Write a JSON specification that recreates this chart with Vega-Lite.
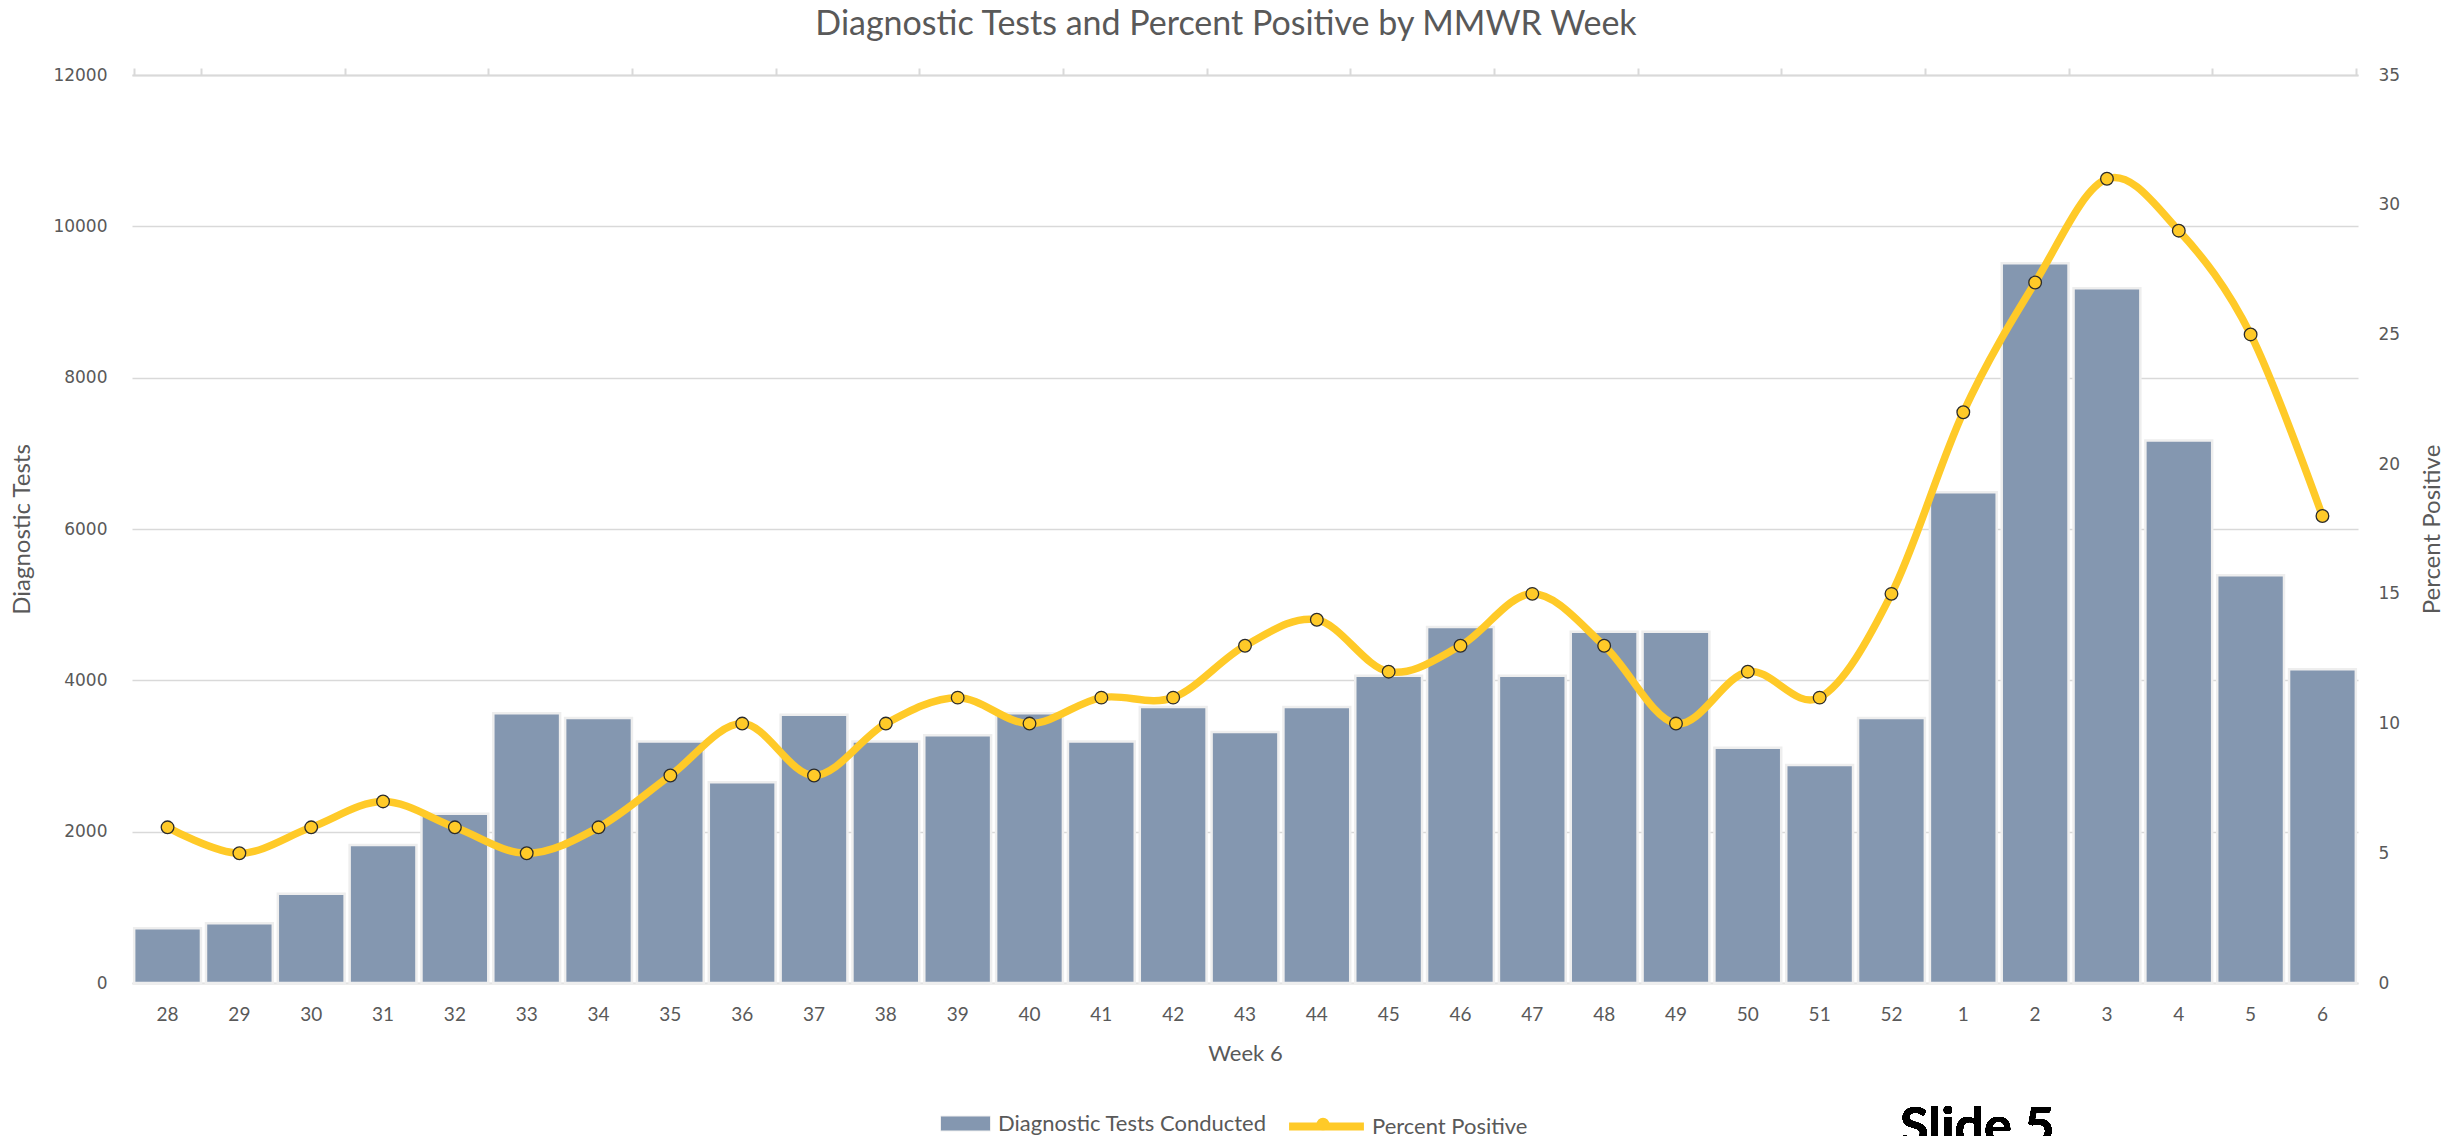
{
  "$schema": "https://vega.github.io/schema/vega-lite/v6.json",
  "width": 2226,
  "height": 908,
  "autosize": {"type": "none"},
  "padding": {"left": 132, "top": 75, "right": 100, "bottom": 153},
  "background": "white",
  "config": {"view": {"stroke": null}},
  "title": {
    "text": "Diagnostic Tests and Percent Positive by MMWR Week",
    "font": "Lato",
    "fontSize": 34,
    "fontWeight": "normal",
    "color": "#595959",
    "anchor": "middle",
    "dx": -19,
    "offset": 24
  },
  "data": {
    "values": [
      {"week": "28", "tests": 725, "pct": 6},
      {"week": "29", "tests": 788, "pct": 5},
      {"week": "30", "tests": 1181, "pct": 6},
      {"week": "31", "tests": 1824, "pct": 7},
      {"week": "32", "tests": 2238, "pct": 6},
      {"week": "33", "tests": 3565, "pct": 5},
      {"week": "34", "tests": 3503, "pct": 6},
      {"week": "35", "tests": 3192, "pct": 8},
      {"week": "36", "tests": 2653, "pct": 10},
      {"week": "37", "tests": 3544, "pct": 8},
      {"week": "38", "tests": 3192, "pct": 10},
      {"week": "39", "tests": 3275, "pct": 11},
      {"week": "40", "tests": 3565, "pct": 10},
      {"week": "41", "tests": 3192, "pct": 11},
      {"week": "42", "tests": 3648, "pct": 11},
      {"week": "43", "tests": 3316, "pct": 13},
      {"week": "44", "tests": 3648, "pct": 14},
      {"week": "45", "tests": 4062, "pct": 12},
      {"week": "46", "tests": 4705, "pct": 13},
      {"week": "47", "tests": 4062, "pct": 15},
      {"week": "48", "tests": 4642, "pct": 13},
      {"week": "49", "tests": 4642, "pct": 10},
      {"week": "50", "tests": 3109, "pct": 12},
      {"week": "51", "tests": 2881, "pct": 11},
      {"week": "52", "tests": 3503, "pct": 15},
      {"week": "1", "tests": 6487, "pct": 22},
      {"week": "2", "tests": 9513, "pct": 27},
      {"week": "3", "tests": 9181, "pct": 31},
      {"week": "4", "tests": 7171, "pct": 29},
      {"week": "5", "tests": 5389, "pct": 25},
      {"week": "6", "tests": 4145, "pct": 18}
    ]
  },
  "layer": [
    {
      "mark": {"type": "bar", "stroke": "#EEEEEE", "strokeWidth": 2.5},
      "encoding": {
        "x": {
          "field": "week", "type": "ordinal", "sort": null,
          "scale": {"paddingInner": 0.07, "paddingOuter": 0.03},
          "axis": {
            "orient": "bottom",
            "title": "Week 6",
            "titleFont": "Lato", "titleFontSize": 22, "titleFontWeight": "normal", "titleColor": "#595959",
            "titlePadding": 19,
            "labelFont": "Lato", "labelFontSize": 19, "labelColor": "#595959",
            "labelAngle": 0, "labelPadding": 22,
            "ticks": false,
            "domainColor": "#E3E3E3", "domainWidth": 2,
            "grid": false
          }
        },
        "y": {
          "field": "tests", "type": "quantitative",
          "scale": {"domain": [0, 12000], "nice": false},
          "axis": {
            "orient": "left",
            "title": "Diagnostic Tests",
            "titleFont": "Lato", "titleFontSize": 24, "titleFontWeight": "normal", "titleColor": "#595959",
            "titlePadding": 18,
            "values": [0, 2000, 4000, 6000, 8000, 10000, 12000],
            "format": "d",
            "labelFont": "DejaVu Sans", "labelFontSize": 17, "labelColor": "#595959",
            "labelPadding": 25,
            "ticks": false, "domain": false,
            "grid": true, "gridColor": "#D9D9D9", "gridWidth": 1.5
          }
        },
        "fill": {
          "datum": "Diagnostic Tests Conducted",
          "scale": {"range": ["#8497B0"]},
          "legend": {
            "title": null,
            "orient": "none",
            "legendX": 808,
            "legendY": 1023,
            "symbolType": "M-1,-0.3H1V0.3H-1Z",
            "symbolSize": 2500,
            "symbolStrokeColor": "#F0F0F0",
            "symbolStrokeWidth": 1,
            "labelFont": "Lato", "labelFontSize": 22, "labelColor": "#595959",
            "labelLimit": 0,
            "labelOffset": 7
          }
        }
      }
    },
    {
      "mark": {"type": "text", "font": "Lato", "fontWeight": "bold", "fontSize": 52, "color": "#000000", "align": "center", "baseline": "alphabetic", "dx": 14},
      "encoding": {
        "x": {"datum": "1", "type": "ordinal", "axis": null},
        "y": {"datum": -2130, "type": "quantitative", "scale": {"domain": [0, 12000], "nice": false}, "axis": null},
        "text": {"value": "Slide 5"}
      }
    },
    {
      "mark": {"type": "line", "interpolate": "cardinal", "strokeWidth": 7.5, "strokeCap": "round"},
      "encoding": {
        "x": {
          "field": "week", "type": "ordinal", "sort": null,
          "axis": {
            "orient": "top",
            "title": null,
            "labels": false,
            "values": ["28", "30", "32", "34", "36", "38", "40", "42", "44", "46", "48", "50", "52", "2", "4", "6"],
            "tickBand": "extent",
            "ticks": true, "tickSize": 7, "tickColor": "#D9D9D9", "tickWidth": 2,
            "domain": true, "domainColor": "#D9D9D9", "domainWidth": 2,
            "grid": false
          }
        },
        "y": {
          "field": "pct", "type": "quantitative",
          "scale": {"domain": [0, 35], "nice": false},
          "axis": {
            "orient": "right",
            "title": "Percent Positive",
            "titleAngle": 270,
            "titleFont": "Lato", "titleFontSize": 24, "titleFontWeight": "normal", "titleColor": "#595959",
            "titlePadding": 45,
            "values": [0, 5, 10, 15, 20, 25, 30, 35],
            "labelFont": "DejaVu Sans", "labelFontSize": 17, "labelColor": "#595959",
            "labelPadding": 20,
            "ticks": false, "domain": false, "grid": false
          }
        },
        "color": {
          "datum": "Percent Positive",
          "scale": {"range": ["#FFCA28"]},
          "legend": {
            "title": null,
            "orient": "none",
            "legendX": 1153,
            "legendY": 1010,
            "symbolType": "M-1,0H1",
            "symbolSize": 5600,
            "symbolStrokeWidth": 8,
            "labelFont": "Lato", "labelFontSize": 22, "labelColor": "#595959",
            "labelLimit": 0,
            "labelOffset": 4
          }
        }
      }
    },
    {
      "mark": {"type": "point", "filled": true, "fill": "#FFCA28", "stroke": "#2B2B2B", "strokeWidth": 1.3, "size": 160, "opacity": 1},
      "encoding": {
        "x": {"field": "week", "type": "ordinal", "sort": null, "axis": null},
        "y": {"field": "pct", "type": "quantitative", "scale": {"domain": [0, 35], "nice": false}, "axis": null},
        "shape": {
          "datum": "marker",
          "scale": {"range": ["circle"]},
          "legend": {
            "title": null,
            "orient": "none",
            "legendX": 1184,
            "legendY": 1042,
            "symbolSize": 160,
            "symbolFillColor": "#FFCA28",
            "symbolStrokeColor": "#2B2B2B",
            "symbolStrokeWidth": 1.3,
            "symbolOpacity": 1,
            "labelExpr": "''",
            "labelOffset": 0
          }
        }
      }
    }
  ],
  "resolve": {"scale": {"y": "independent"}, "axis": {"x": "independent"}}
}
